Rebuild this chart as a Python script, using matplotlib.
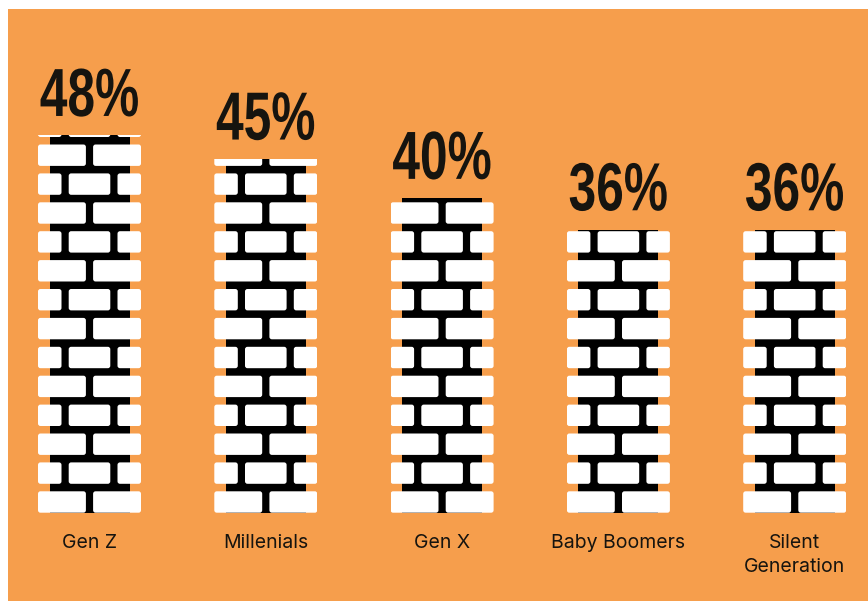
import matplotlib
matplotlib.use('Agg')
import matplotlib.pyplot as plt
from matplotlib.patches import Rectangle, FancyBboxPatch
from matplotlib.patheffects import AbstractPathEffect
from matplotlib.transforms import Affine2D

groups = ['Gen Z', 'Millenials', 'Gen X', 'Baby Boomers', 'Silent\nGeneration']
shares = [48, 45, 40, 36, 36]

orange = '#F69E4C'
ink = '#16140f'

# layout in pixels of the 868x601 canvas
W_PX, H_PX = 868, 601
X0_PX, PX_PER_X = 89.5, 176.3      # first bar centre, bar spacing
BASE_PX, PX_PER_PCT = 512.7, 7.86  # y of zero line, pixels per percent

# brick geometry (x in category units, y in percent)
bar_w = 103 / PX_PER_X
core_w = 80 / PX_PER_X
gap = 7.2 / PX_PER_X
half_w = 23.5 / PX_PER_X
mid_w = bar_w - 2 * half_w - 2 * gap
full_w = (bar_w - gap) / 2
row_pitch = 28.9 / PX_PER_PCT
brick_h = 21.4 / PX_PER_PCT
aspect = PX_PER_X / PX_PER_PCT


class Squeeze(AbstractPathEffect):
    """Narrow the glyphs horizontally about the middle of the string."""

    def __init__(self, sx):
        super().__init__()
        self.sx = sx

    def draw_path(self, renderer, gc, tpath, affine, rgbFace=None):
        ext = tpath.get_extents()
        cx = (ext.x0 + ext.x1) / 2
        sq = Affine2D().translate(-cx, 0).scale(self.sx, 1).translate(cx, 0)
        renderer.draw_path(gc, tpath, sq + affine, rgbFace)


fig = plt.figure(figsize=(W_PX / 100, H_PX / 100), dpi=100, facecolor='white')
fig.add_artist(Rectangle((8 / W_PX, 0), 1 - 8 / W_PX, (H_PX - 9) / H_PX,
                         transform=fig.transFigure, facecolor=orange,
                         edgecolor='none', zorder=0))

ax = fig.add_axes([0, 0, 1, 1])
ax.set_facecolor('none')
ax.set_xlim(-X0_PX / PX_PER_X, (W_PX - X0_PX) / PX_PER_X)
ax.set_ylim(-(H_PX - BASE_PX) / PX_PER_PCT, BASE_PX / PX_PER_PCT)
ax.axis('off')


def brick(x, y, w):
    return FancyBboxPatch((x, y), w, brick_h,
                          boxstyle='round,pad=0,rounding_size=0.014',
                          mutation_aspect=aspect, facecolor='white',
                          edgecolor='none', zorder=3)


for i, v in enumerate(shares):
    # mortar
    ax.bar(i, v, width=core_w, color='black', zorder=2)
    clip = Rectangle((i - bar_w / 2, 0), bar_w, v, transform=ax.transData)
    left = i - bar_w / 2
    k = 0
    while k * row_pitch < v:
        y = k * row_pitch
        if k % 2 == 0:
            xs = [(left, full_w), (left + full_w + gap, full_w)]
        else:
            xs = [(left, half_w),
                  (left + half_w + gap, mid_w),
                  (left + half_w + mid_w + 2 * gap, half_w)]
        for bx, bw in xs:
            p = brick(bx, y, bw)
            ax.add_patch(p)
            p.set_clip_path(clip)
        k += 1

    ax.annotate(f'{v}%', (i, v), xytext=(0, 14), textcoords='offset points',
                ha='center', va='baseline', fontsize=49, fontweight='bold',
                family='Liberation Sans', color=ink,
                path_effects=[Squeeze(0.73)])
    ax.text(i, -(534.5 - BASE_PX) / PX_PER_PCT, groups[i], ha='center',
            va='top', fontsize=14, family='Inter', color=ink,
            linespacing=1.38)

fig.savefig('out.png', dpi=100)
